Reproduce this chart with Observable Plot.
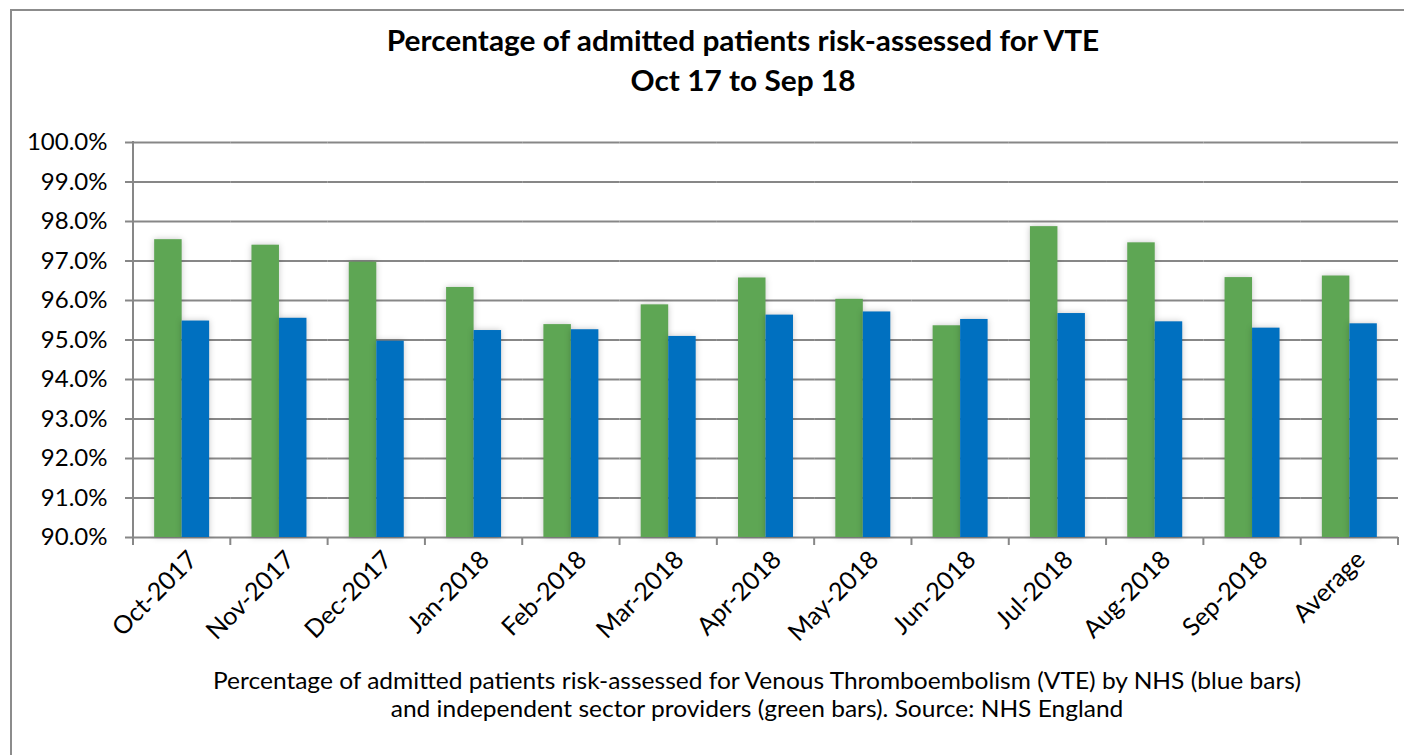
<!DOCTYPE html>
<html>
<head>
<meta charset="utf-8">
<script src="https://cdn.jsdelivr.net/npm/d3@7"></script>
<script src="https://cdn.jsdelivr.net/npm/@observablehq/plot@0.6"></script>
<style>
  body { margin: 0; background: #fff; }
  #wrap { position: relative; width: 1404px; height: 755px; overflow: hidden; background: #fff; font-family: Lato, "Open Sans", sans-serif; }
  #bg { position: absolute; left: 0; top: 0; }
  #chart { position: absolute; left: 0; top: 120px; }
  #chart g[aria-label="bar"] rect { filter: drop-shadow(0px 0px 3px rgba(0,0,0,0.22)); }
</style>
</head>
<body>
<div id="wrap">
  <svg id="bg" width="1404" height="755"></svg>
  <div id="chart"></div>
</div>
<script>
// ---- data ----
const months = ["Oct-2017", "Nov-2017", "Dec-2017", "Jan-2018", "Feb-2018", "Mar-2018",
  "Apr-2018", "May-2018", "Jun-2018", "Jul-2018", "Aug-2018", "Sep-2018", "Average"];
const independentSector = [97.54, 97.40, 96.97, 96.33, 95.39, 95.89, 96.57, 96.03, 95.36, 97.87, 97.46, 96.58, 96.62];
const nhs = [95.48, 95.55, 94.97, 95.24, 95.26, 95.09, 95.63, 95.71, 95.52, 95.67, 95.46, 95.30, 95.41];
const seriesNames = ["Independent sector providers", "NHS"];
const seriesColors = ["#5EA654", "#0070C0"];
const yTicks = [90, 91, 92, 93, 94, 95, 96, 97, 98, 99, 100];
const titleLines = ["Percentage of admitted patients risk-assessed for VTE", "Oct 17 to Sep 18"];
const captionLines = [
  "Percentage of admitted patients risk-assessed for Venous Thromboembolism (VTE) by NHS (blue bars)",
  "and independent sector providers (green bars). Source: NHS England"
];

const rows = months.flatMap((m, i) => [
  {month: m, series: seriesNames[0], value: independentSector[i]},
  {month: m, series: seriesNames[1], value: nhs[i]}
]);

const gridColor = "#878787";

const plot = Plot.plot({
  width: 1404,
  height: 540,
  marginLeft: 133,
  marginRight: 6,
  marginTop: 22,
  marginBottom: 123,
  style: {fontFamily: "Lato, sans-serif", color: "#000", background: "transparent", overflow: "visible"},
  fx: {domain: months, padding: 0, round: false, label: null},
  x: {domain: seriesNames, paddingInner: 0, paddingOuter: 0.77, axis: null, round: false},
  y: {domain: [90, 100], label: null},
  color: {domain: seriesNames, range: seriesColors},
  marks: [
    Plot.gridY(yTicks, {stroke: gridColor, strokeWidth: 2, strokeOpacity: 1}),
    Plot.barY(rows, {fx: "month", x: "series", y1: 90, y2: "value", fill: "series"}),
    Plot.axisY(yTicks, {tickFormat: d => d.toFixed(1) + "%", tickSize: 8, tickPadding: 18,
      stroke: gridColor, strokeWidth: 2, fontSize: 24, fill: "#000"}),
    Plot.axisFx({anchor: "bottom", tickSize: 0, tickRotate: -45, tickPadding: 18, dx: 11,
      fontSize: 25, fill: "#000", label: null})
  ]
});
document.getElementById("chart").appendChild(plot);

// category boundary ticks and the vertical value axis, placed with the plot's own scales
const fx = plot.scale("fx");
const ys = plot.scale("y");
const svg = d3.select(plot);
const bounds = months.map(m => fx.apply(m)).concat([fx.apply(months[months.length - 1]) + fx.bandwidth]);
const g = svg.append("g").attr("stroke", gridColor).attr("stroke-width", 2);
g.selectAll("line.b").data(bounds).join("line")
  .attr("x1", d => d).attr("x2", d => d)
  .attr("y1", ys.apply(90)).attr("y2", ys.apply(90) + 8);
g.append("line")
  .attr("x1", bounds[0]).attr("x2", bounds[0])
  .attr("y1", ys.apply(100) - 1).attr("y2", ys.apply(90) + 8);

// frame, title and caption (slightly widened glyphs, as in the reference)
const bg = d3.select("#bg");
bg.append("rect").attr("x", 11).attr("y", 10).attr("width", 1500).attr("height", 900)
  .attr("fill", "none").attr("stroke", "#8c8c8c").attr("stroke-width", 2);
bg.selectAll("text.t").data(titleLines).join("text")
  .attr("transform", (d, i) => `translate(743,${51 + i * 40}) scale(1.066,1)`)
  .attr("text-anchor", "middle").attr("font-family", "Lato, sans-serif")
  .attr("font-weight", "bold").attr("font-size", 28).attr("fill", "#000")
  .text(d => d);
bg.selectAll("text.c").data(captionLines).join("text")
  .attr("transform", (d, i) => `translate(757,${689 + i * 28}) scale(1.066,1)`)
  .attr("text-anchor", "middle").attr("font-family", "Lato, sans-serif")
  .attr("font-size", 23).attr("fill", "#000")
  .text(d => d);
</script>
</body>
</html>
